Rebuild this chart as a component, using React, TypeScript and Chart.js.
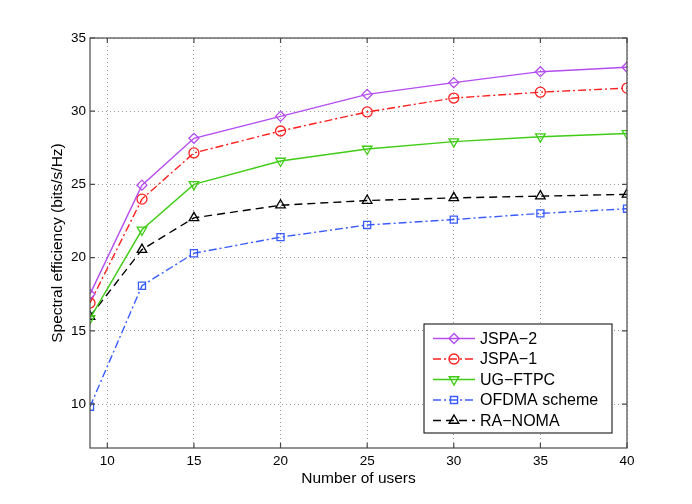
import React, { useEffect, useRef } from "react";
import { Chart, registerables } from "chart.js";
import { drawPoint } from "chart.js/helpers";

Chart.register(...registerables);

const FONT = "'Liberation Sans', Arial, Helvetica, sans-serif";

// number of users (x) and spectral efficiency of each scheme (y)
const users = [9, 12, 15, 20, 25, 30, 35, 40];
const jspa2 = [17.5, 24.95, 28.15, 29.65, 31.15, 31.95, 32.7, 33.0];
const jspa1 = [16.9, 24.0, 27.15, 28.65, 29.95, 30.9, 31.3, 31.58];
const ugFtpc = [15.85, 21.9, 25.0, 26.6, 27.42, 27.92, 28.26, 28.48];
const ofdma = [9.82, 18.08, 20.3, 21.4, 22.23, 22.6, 23.02, 23.34];
const raNoma = [15.98, 20.55, 22.72, 23.58, 23.9, 24.08, 24.2, 24.32];

const xTicks = [10, 15, 20, 25, 30, 35, 40];
const yTicks = [10, 15, 20, 25, 30, 35];
const seriesNames = ["JSPA\u22122", "JSPA\u22121", "UG\u2212FTPC", "OFDMA scheme", "RA\u2212NOMA"];

const toPoints = (ys: number[]) => users.map((u, i) => ({ x: u, y: ys[i] }));

// MATLAB-style box around the axes with inward tick marks
const axesBox = {
  id: "axesBox",
  afterDraw(chart: any) {
    const { ctx, chartArea } = chart;
    const { left, right, top, bottom } = chartArea;
    const xs = chart.scales.x;
    const ys = chart.scales.y;
    ctx.save();
    ctx.strokeStyle = "#4a4a4a";
    ctx.lineWidth = 1.2;
    ctx.strokeRect(left, top, right - left, bottom - top);
    ctx.beginPath();
    xTicks.forEach((v) => {
      const px = xs.getPixelForValue(v);
      ctx.moveTo(px, bottom);
      ctx.lineTo(px, bottom - 5);
      ctx.moveTo(px, top);
      ctx.lineTo(px, top + 5);
    });
    yTicks.forEach((v) => {
      const py = ys.getPixelForValue(v);
      ctx.moveTo(left, py);
      ctx.lineTo(left + 5, py);
      ctx.moveTo(right, py);
      ctx.lineTo(right - 5, py);
    });
    ctx.stroke();
    ctx.restore();
  },
};

// legend box in the lower right corner, inside the axes
const boxLegend = {
  id: "boxLegend",
  afterDraw(chart: any) {
    const { ctx, chartArea } = chart;
    const w = 188;
    const h = 109;
    const x0 = chartArea.right - 15 - w;
    const y0 = chartArea.bottom - 15 - h;
    ctx.save();
    ctx.fillStyle = "#fff";
    ctx.fillRect(x0, y0, w, h);
    ctx.strokeStyle = "#000";
    ctx.lineWidth = 1;
    ctx.strokeRect(x0, y0, w, h);
    chart.data.datasets.forEach((ds: any, i: number) => {
      const cy = y0 + 14.5 + i * 20.5;
      ctx.strokeStyle = ds.borderColor;
      ctx.lineWidth = ds.borderWidth;
      ctx.setLineDash(ds.borderDash || []);
      ctx.beginPath();
      ctx.moveTo(x0 + 9, cy);
      ctx.lineTo(x0 + 51, cy);
      ctx.stroke();
      ctx.setLineDash([]);
      ctx.strokeStyle = ds.pointBorderColor;
      ctx.fillStyle = "rgba(0,0,0,0)";
      drawPoint(
        ctx,
        {
          pointStyle: ds.pointStyle,
          rotation: ds.pointRotation || 0,
          radius: ds.pointRadius,
          borderWidth: ds.pointBorderWidth,
        },
        x0 + 30,
        cy
      );
      ctx.fillStyle = "#000";
      ctx.font = `16px ${FONT}`;
      ctx.textBaseline = "middle";
      ctx.textAlign = "left";
      ctx.fillText(ds.label, x0 + 56, cy + 1);
    });
    ctx.restore();
  },
};

const makeSet = (
  label: string,
  ys: number[],
  color: string,
  dash: number[],
  pointStyle: string,
  radius: number,
  rotation = 0
) => ({
  label,
  data: toPoints(ys),
  borderColor: color,
  borderWidth: 1.4,
  borderDash: dash,
  pointStyle,
  pointRotation: rotation,
  pointRadius: radius,
  pointBorderColor: color,
  pointBackgroundColor: "rgba(0,0,0,0)",
  pointBorderWidth: 1.3,
  tension: 0,
  fill: false,
});

const App: React.FC = () => {
  const canvasRef = useRef<HTMLCanvasElement>(null);
  const chartRef = useRef<Chart | null>(null);

  useEffect(() => {
    if (!canvasRef.current) return;
    const ctx = canvasRef.current.getContext("2d");
    if (!ctx) return;

    const datasets = [
      makeSet(seriesNames[0], jspa2, "#b44cf0", [], "rectRot", 5),
      makeSet(seriesNames[1], jspa1, "#ff1f1f", [8, 3, 2, 3], "circle", 5),
      makeSet(seriesNames[2], ugFtpc, "#3fcc14", [], "triangle", 5.5, 180),
      makeSet(seriesNames[3], ofdma, "#3a5cff", [8, 3, 2, 3], "rect", 5),
      makeSet(seriesNames[4], raNoma, "#000000", [8, 5], "triangle", 5.5),
    ];

    if (chartRef.current) chartRef.current.destroy();
    chartRef.current = new Chart(ctx, {
      type: "line",
      data: { datasets } as any,
      options: {
        animation: false,
        responsive: false,
        layout: { padding: { left: 0, right: 65, top: 38, bottom: 0 } },
        plugins: { legend: { display: false }, tooltip: { enabled: false } },
        scales: {
          x: {
            type: "linear",
            min: 9,
            max: 40,
            afterBuildTicks: (s: any) => {
              s.ticks = xTicks.map((v) => ({ value: v }));
            },
            afterFit: (s: any) => {
              s.height = 56;
            },
            ticks: {
              color: "#000",
              font: { family: FONT, size: 13.5 },
              padding: 5,
              maxRotation: 0,
              callback: (v: any) => String(v),
            },
            grid: {
              color: "rgba(0,0,0,0.4)",
              lineWidth: 1,
              drawTicks: false,
            },
            border: { display: false, dash: [1, 3] },
            title: {
              display: true,
              text: "Number of users",
              color: "#000",
              font: { family: FONT, size: 15.5 },
              padding: { top: 0, bottom: 16 },
            },
          },
          y: {
            type: "linear",
            min: 7,
            max: 35,
            afterBuildTicks: (s: any) => {
              s.ticks = yTicks.map((v) => ({ value: v }));
            },
            afterFit: (s: any) => {
              s.width = 90;
            },
            ticks: {
              color: "#000",
              font: { family: FONT, size: 13.5 },
              padding: 4,
              callback: (v: any) => String(v),
            },
            grid: {
              color: "rgba(0,0,0,0.4)",
              lineWidth: 1,
              drawTicks: false,
            },
            border: { display: false, dash: [1, 3] },
            title: {
              display: true,
              text: "Spectral efficiency (bits/s/Hz)",
              color: "#000",
              font: { family: FONT, size: 15.5 },
              padding: { top: 48, bottom: 0 },
            },
          },
        },
      } as any,
      plugins: [axesBox, boxLegend],
    });

    return () => {
      if (chartRef.current) {
        chartRef.current.destroy();
        chartRef.current = null;
      }
    };
  }, []);

  return (
    <div style={{ position: "absolute", left: 0, top: 0, width: 692, height: 504, background: "#fff" }}>
      <canvas ref={canvasRef} width={692} height={504} style={{ width: 692, height: 504 }}></canvas>
    </div>
  );
};

export default App;
